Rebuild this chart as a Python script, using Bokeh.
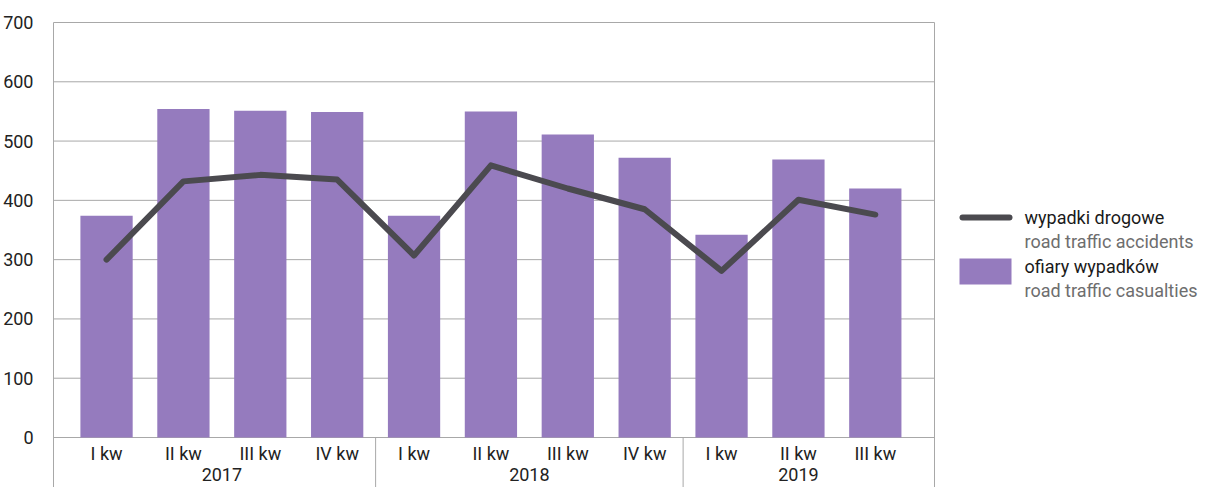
from bokeh.plotting import figure
from bokeh.models import Range1d, FixedTicker, ColumnDataSource
from bokeh.core.properties import value
from bokeh.embed import file_html
from bokeh.resources import INLINE

# ---- data ----
quarters = ["I kw", "II kw", "III kw", "IV kw",
            "I kw", "II kw", "III kw", "IV kw",
            "I kw", "II kw", "III kw"]
years = ["2017", "2018", "2019"]
year_sizes = [4, 4, 3]
casualties = [374, 554, 551, 549, 374, 550, 511, 472, 342, 469, 420]
accidents = [300, 432, 443, 435, 307, 459, 420, 385, 281, 401, 376]
y_ticks = [0, 100, 200, 300, 400, 500, 600, 700]
legend_titles = ["wypadki drogowe", "ofiary wypadków"]
legend_subtitles = ["road traffic accidents", "road traffic casualties"]

# ---- layout constants (pixel positions are figure pixels) ----
FONT = "Roboto"
BAR_COLOR = "#957BBE"
LINE_COLOR = "#4B4A4F"
GRID_COLOR = "#A8A8A8"
W, H = 1203, 487
FRAME_L, FRAME_R, FRAME_T, FRAME_B = 53, 934, 22, 437   # plot area edges
ppu = (FRAME_B - FRAME_T) / 700.0
xL, xR = -0.69, 10.77
pxcat = (FRAME_R - FRAME_L) / (xR - xL)
left_b, top_b = FRAME_L - 2, FRAME_T - 2
x0 = xL - (FRAME_L - left_b) / pxcat
x1 = x0 + (W - left_b) / pxcat
y1 = 700 + (FRAME_T - top_b) / ppu
y0 = y1 - (H - top_b) / ppu

def px_x(X):
    return xL + (X - FRAME_L) / pxcat

def px_y(Y):
    return (FRAME_B - Y) / ppu

p = figure(width=W, height=H, output_backend="svg", toolbar_location=None,
           x_range=Range1d(x0, x1), y_range=Range1d(y0, y1),
           x_axis_location=None, min_border_left=left_b, min_border_top=top_b,
           min_border_right=0, min_border_bottom=0, background_fill_color="white",
           border_fill_color="white")
p.outline_line_color = None
p.xgrid.visible = False
p.ygrid.visible = False

yax = p.yaxis[0]
yax.ticker = FixedTicker(ticks=y_ticks)
yax.axis_line_color = None
yax.major_tick_line_color = None
yax.minor_tick_line_color = None
yax.major_label_text_font = FONT
yax.major_label_text_font_size = "18px"
yax.major_label_text_color = "#222222"
yax.major_label_standoff = 12

# horizontal grid lines within the plot area
p.segment(x0=[xL] * len(y_ticks), x1=[xR] * len(y_ticks), y0=y_ticks, y1=y_ticks,
          line_color=GRID_COLOR, line_width=1)

# vertical borders / group separators
xs = list(range(len(quarters)))
seps = [xL]
acc = 0
for n in year_sizes[:-1]:
    acc += n
    seps.append(acc - 0.5)
seps.append(xR)
tops = [700] + [0] * (len(seps) - 2) + [700]
p.segment(x0=seps, x1=seps, y0=tops, y1=[y0] * len(seps),
          line_color=GRID_COLOR, line_width=1)

# bars and line
src = ColumnDataSource(dict(x=xs, cas=casualties, acc=accidents, q=quarters))
p.vbar(x="x", top="cas", bottom=0, width=0.68, source=src,
       fill_color=BAR_COLOR, line_color=None)
p.line(x="x", y="acc", source=src, line_color=LINE_COLOR, line_width=6,
       line_join="round", line_cap="round")

# category labels
p.text(x="x", y=px_y(453), text="q", source=src, text_align="center",
       text_baseline="middle", text_font=value(FONT), text_font_size="18px",
       text_color="#222222")
yc = []
acc = 0
for n in year_sizes:
    yc.append(acc + (n - 1) / 2.0)
    acc += n
p.text(x=yc, y=[px_y(474)] * len(years), text=years, text_align="center",
       text_baseline="middle", text_font=value(FONT), text_font_size="18px",
       text_color="#222222")

# legend
p.segment(x0=[px_x(962)], x1=[px_x(1009)], y0=[px_y(217)], y1=[px_y(217)],
          line_color=LINE_COLOR, line_width=6, line_cap="round")
p.quad(left=[px_x(959)], right=[px_x(1011)], top=[px_y(258)], bottom=[px_y(284)],
       fill_color=BAR_COLOR, line_color=None)
p.text(x=[px_x(1024)] * 2, y=[px_y(217), px_y(266)], text=legend_titles,
       text_align="left", text_baseline="middle", text_font=value(FONT),
       text_font_size="18px", text_color="#1a1a1a")
p.text(x=[px_x(1024)] * 2, y=[px_y(241), px_y(290)], text=legend_subtitles,
       text_align="left", text_baseline="middle", text_font=value(FONT),
       text_font_size="18px", text_color="#6e6e6e")

open("out.html", "w").write(file_html(p, INLINE))
